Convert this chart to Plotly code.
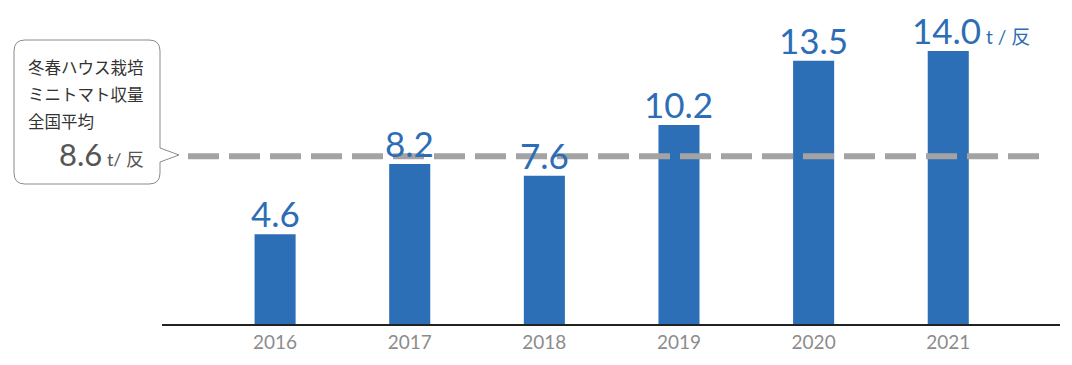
import plotly.graph_objects as go

years = [2016, 2017, 2018, 2019, 2020, 2021]
yields = [4.6, 8.2, 7.6, 10.2, 13.5, 14.0]
labels = ["4.6", "8.2", "7.6", "10.2", "13.5", "14.0"]
avg_value = 8.6
callout_lines = ["冬春ハウス栽培", "ミニトマト収量", "全国平均"]
unit = "t / 反"

# page offset (browser body margin)
OFF = 8
W, H = 1072 - 2 * OFF, 365 - 2 * OFF
# plot area in screen pixels
SL, SR, ST, SB = 162, 1060, 12, 324
L, T = SL - OFF, ST - OFF
R = W - (SR - OFF)
B = H - (SB - OFF)
PW, PH = W - L - R, H - T - B

def px(x):
    return (x - SL) / PW

def py(y):
    return (SB - y) / PH

bar_color = "#2c6fb7"
label_color = "#2d6db5"

fig = go.Figure()
fig.add_trace(go.Bar(x=years, y=yields, width=0.305, marker=dict(color=bar_color, line=dict(width=0)),
                     hoverinfo="skip"))

# average dashed line
fig.add_shape(type="line", xref="paper", yref="y", x0=px(188), x1=px(1046), y0=avg_value, y1=avg_value,
              line=dict(color="#a3a3a3", width=6, dash="31px,10px"))

# value labels
for i, (yr, v, lab) in enumerate(zip(years, yields, labels)):
    text = lab
    last = i == len(years) - 1
    if last:
        text = lab + "<span style='font-size:19px'> " + unit + "</span>"
    fig.add_annotation(x=yr, y=v, text=text, showarrow=False, yanchor="bottom", yshift=-2,
                       xanchor="center" if not last else "left",
                       xshift=0 if not last else -38,
                       font=dict(family="Lato, Noto Sans CJK JP", size=35, color=label_color))

# callout box with pointer
x0, x1, y0, y1, r = 14, 160, 40, 184, 11
path = (f"M {px(x0+r)},{py(y0)} L {px(x1-r)},{py(y0)} "
        f"Q {px(x1)},{py(y0)} {px(x1)},{py(y0+r)} "
        f"L {px(x1)},{py(148)} L {px(179)},{py(155)} L {px(x1)},{py(162)} "
        f"L {px(x1)},{py(y1-r)} Q {px(x1)},{py(y1)} {px(x1-r)},{py(y1)} "
        f"L {px(x0+r)},{py(y1)} Q {px(x0)},{py(y1)} {px(x0)},{py(y1-r)} "
        f"L {px(x0)},{py(y0+r)} Q {px(x0)},{py(y0)} {px(x0+r)},{py(y0)} Z")
fig.add_shape(type="path", xref="paper", yref="paper", path=path,
              line=dict(color="#8a8a8a", width=1), fillcolor="white")

for j, line in enumerate(callout_lines):
    fig.add_annotation(xref="paper", yref="paper", x=px(26), y=py(67 + 27 * j), text=line,
                       showarrow=False, xanchor="left", yanchor="middle",
                       font=dict(family="Noto Sans CJK JP", size=16.5, color="#333333"))
fig.add_annotation(xref="paper", yref="paper", x=px(146), y=py(154), text=
                   f"{avg_value}<span style='font-size:18px'> t/ 反</span>",
                   showarrow=False, xanchor="right", yanchor="middle",
                   font=dict(family="Lato, Noto Sans CJK JP", size=31, color="#555555"))

fig.update_layout(
    width=W, height=H, margin=dict(l=L, r=R, t=T, b=B, pad=0),
    plot_bgcolor="white", paper_bgcolor="white", showlegend=False,
    xaxis=dict(range=[2015.16, 2021.83], tickmode="array", tickvals=years, ticktext=[str(y) for y in years],
               showgrid=False, zeroline=False, showline=True, linecolor="#222222", linewidth=1.5,
               ticks="", tickfont=dict(family="Lato", size=19, color="#8c8c8c"), fixedrange=True),
    yaxis=dict(range=[0, 16], visible=False, showgrid=False, zeroline=False, fixedrange=True),
)

fig.write_html("out.html", config={"displayModeBar": False})
